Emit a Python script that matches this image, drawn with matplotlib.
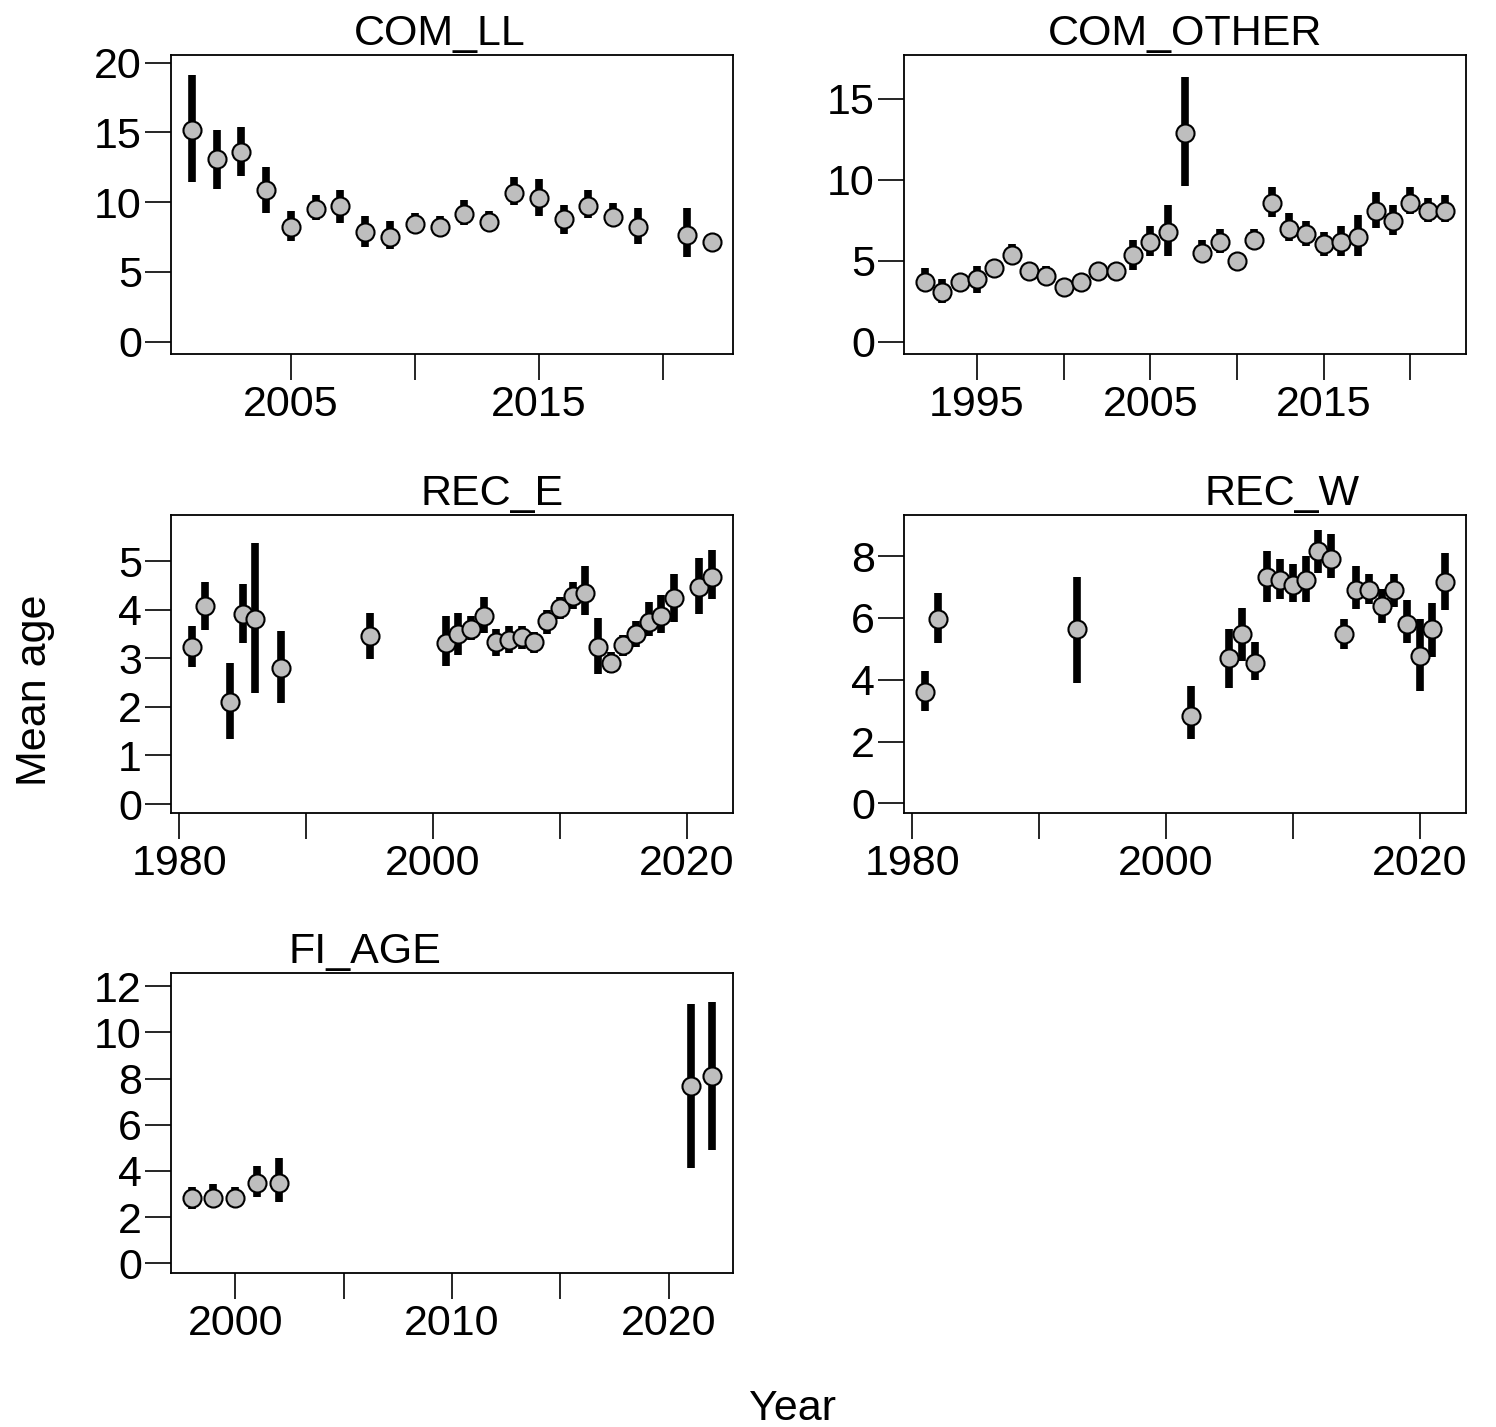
import matplotlib
matplotlib.use('Agg')
import matplotlib.pyplot as plt
from matplotlib.transforms import offset_copy

plt.rcParams['font.family'] = ['Liberation Sans', 'DejaVu Sans']

# COM_LL
ll_year = [2001, 2002, 2003, 2004, 2005, 2006, 2007, 2008, 2009, 2010, 2011,
           2012, 2013, 2014, 2015, 2016, 2017, 2018, 2019, 2021, 2022]
ll_mean = [15.15, 13.1, 13.6, 10.85, 8.22, 9.51, 9.72, 7.84, 7.48, 8.41, 8.22,
           9.18, 8.6, 10.63, 10.27, 8.77, 9.72, 8.96, 8.22, 7.65, 7.12]
ll_lo = [11.47, 10.92, 11.88, 9.25, 7.19, 8.7, 8.51, 6.81, 6.64, 7.77, 7.65,
         8.34, 8.0, 9.82, 9.03, 7.74, 8.89, 8.29, 7.0, 6.07, 6.6]
ll_hi = [19.1, 15.17, 15.36, 12.54, 9.37, 10.51, 10.87, 9.0, 8.65, 9.2, 9.0,
         10.16, 9.39, 11.83, 11.66, 9.77, 10.87, 9.94, 9.58, 9.56, 7.6]

# COM_OTHER
ot_year = list(range(1992, 2023))
ot_mean = [3.71, 3.07, 3.71, 3.89, 4.53, 5.34, 4.37, 4.04, 3.38, 3.71, 4.37,
           4.37, 5.34, 6.16, 6.78, 12.9, 5.48, 6.16, 5.0, 6.31, 8.57, 6.99,
           6.66, 6.02, 6.16, 6.47, 8.08, 7.44, 8.57, 8.08, 8.08]
ot_lo = [3.3, 2.39, 3.3, 3.01, 4.1, 4.9, 3.95, 3.6, 3.0, 3.3, 3.95,
         3.95, 4.45, 5.28, 5.28, 9.64, 5.0, 5.48, 4.6, 5.9, 7.73, 6.24,
         5.93, 5.28, 5.28, 5.28, 7.0, 6.57, 7.89, 7.38, 7.38]
ot_hi = [4.53, 3.89, 4.1, 4.7, 4.9, 6.02, 4.75, 4.7, 3.8, 4.1, 4.75,
         4.75, 6.31, 7.13, 8.45, 16.34, 6.31, 6.99, 5.4, 6.99, 9.56, 7.95,
         7.48, 6.8, 7.13, 7.81, 9.23, 8.43, 9.56, 8.9, 9.07]

# REC_E
re_year = [1981, 1982, 1984, 1985, 1986, 1988, 1995, 2001, 2002, 2003, 2004,
           2005, 2006, 2007, 2008, 2009, 2010, 2011, 2012, 2013, 2014, 2015,
           2016, 2017, 2018, 2019, 2021, 2022]
re_mean = [3.23, 4.08, 2.09, 3.92, 3.81, 2.79, 3.45, 3.32, 3.5, 3.61, 3.87,
           3.33, 3.38, 3.44, 3.33, 3.76, 4.03, 4.29, 4.35, 3.23, 2.9, 3.28,
           3.5, 3.74, 3.87, 4.25, 4.46, 4.68]
re_lo = [2.83, 3.59, 1.33, 3.31, 2.29, 2.07, 2.99, 2.84, 3.06, 3.38, 3.53,
         3.05, 3.1, 3.2, 3.1, 3.5, 3.8, 4.02, 3.89, 2.67, 2.7, 3.05,
         3.24, 3.46, 3.52, 3.74, 3.91, 4.22]
re_hi = [3.67, 4.58, 2.91, 4.53, 5.38, 3.56, 3.93, 3.87, 3.93, 3.87, 4.26,
         3.61, 3.67, 3.67, 3.55, 4.0, 4.27, 4.58, 4.9, 3.83, 3.12, 3.48,
         3.76, 4.15, 4.31, 4.74, 5.06, 5.22]

# REC_W
rw_year = [1981, 1982, 1993, 2002, 2005, 2006, 2007, 2008, 2009, 2010, 2011,
           2012, 2013, 2014, 2015, 2016, 2017, 2018, 2019, 2020, 2021, 2022]
rw_mean = [3.61, 5.96, 5.63, 2.84, 4.71, 5.47, 4.53, 7.31, 7.22, 7.06, 7.22,
           8.17, 7.91, 5.47, 6.9, 6.9, 6.38, 6.9, 5.8, 4.78, 5.63, 7.16]
rw_lo = [3.0, 5.18, 3.91, 2.07, 3.74, 4.6, 3.99, 6.52, 6.61, 6.52, 6.52,
         7.46, 7.28, 5.0, 6.29, 6.44, 5.85, 6.36, 5.18, 3.64, 4.74, 6.27]
rw_hi = [4.29, 6.82, 7.33, 3.8, 5.64, 6.33, 5.23, 8.17, 7.92, 7.76, 8.01,
         8.86, 8.7, 5.98, 7.69, 7.42, 6.95, 7.42, 6.58, 5.98, 6.49, 8.11]

# FI_AGE
fi_year = [1998, 1999, 2000, 2001, 2002, 2021, 2022]
fi_mean = [2.83, 2.83, 2.83, 3.49, 3.49, 7.68, 8.12]
fi_lo = [2.34, 2.5, 2.5, 2.89, 2.64, 4.11, 4.91]
fi_hi = [3.29, 3.42, 3.29, 4.21, 4.55, 11.23, 11.33]

W, H = 1496, 1427
fig = plt.figure(figsize=(W / 100, H / 100), dpi=100)

FS = 31

def panel(box, name, tx, yr, mn, lo, hi, xlim, ylim, xt, xlab, yt):
    l, t, r, b = box
    ax = fig.add_axes([l / W, 1 - b / H, (r - l) / W, (b - t) / H])
    ax.vlines(yr, lo, hi, colors='black', linewidth=5.5, capstyle='butt', zorder=2)
    ax.plot(yr, mn, 'o', ms=13, mfc='#bebebe', mec='black', mew=1.5,
            linestyle='none', zorder=3)
    ax.set_xlim(xlim)
    ax.set_ylim(ylim)
    ax.set_xticks(xt)
    ax.set_xticklabels([str(v) if v in xlab else '' for v in xt])
    ax.set_yticks(yt)
    ax.set_yticklabels([str(v) for v in yt])
    ax.tick_params(axis='both', direction='out', length=19, width=1.2,
                   labelsize=FS, color='black')
    ax.tick_params(axis='x', pad=3)
    ax.tick_params(axis='y', pad=2)
    for s in ax.spines.values():
        s.set_linewidth(1.3)
    tr = offset_copy(ax.transAxes, fig=fig, y=10, units='dots')
    ax.text(tx, 1, name, transform=tr, ha='center', va='baseline', fontsize=FS)
    return ax

panel((171, 55, 733, 354), 'COM_LL', 0.479, ll_year, ll_mean, ll_lo, ll_hi,
      (2000.16, 2022.84), (-0.88, 20.55), [2005, 2010, 2015, 2020], [2005, 2015],
      [0, 5, 10, 15, 20])
panel((904, 55, 1466, 354), 'COM_OTHER', 0.5, ot_year, ot_mean, ot_lo, ot_hi,
      (1990.8, 2023.2), (-0.74, 17.68), [1995, 2000, 2005, 2010, 2015, 2020],
      [1995, 2005, 2015], [0, 5, 10, 15])
panel((171, 515, 733, 813), 'REC_E', 0.571, re_year, re_mean, re_lo, re_hi,
      (1979.36, 2023.64), (-0.185, 5.95), [1980, 1990, 2000, 2010, 2020],
      [1980, 2000, 2020], [0, 1, 2, 3, 4, 5])
panel((904, 515, 1466, 813), 'REC_W', 0.673, rw_year, rw_mean, rw_lo, rw_hi,
      (1979.36, 2023.64), (-0.31, 9.33), [1980, 1990, 2000, 2010, 2020],
      [1980, 2000, 2020], [0, 2, 4, 6, 8])
panel((171, 973, 733, 1273), 'FI_AGE', 0.345, fi_year, fi_mean, fi_lo, fi_hi,
      (1997.04, 2022.96), (-0.42, 12.57), [2000, 2005, 2010, 2015, 2020],
      [2000, 2010, 2020], [0, 2, 4, 6, 8, 10, 12])

fig.text(35 / W, 1 - 690 / H, 'Mean age', rotation=90, ha='center', va='center',
         fontsize=FS)
fig.text(792 / W, 1 - 1420 / H, 'Year', ha='center', va='baseline', fontsize=FS)

fig.savefig('out.png', dpi=100)
